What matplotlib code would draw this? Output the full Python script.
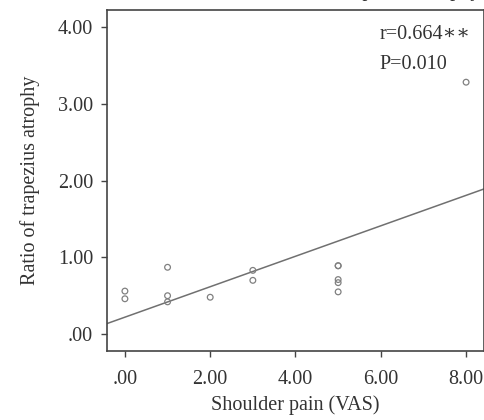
import numpy as np
import matplotlib
matplotlib.use("Agg")
import matplotlib.pyplot as plt

# Data
vas = [0, 0, 1, 1, 1, 2, 3, 3, 5, 5, 5, 5, 5, 8]
ratio = [0.56, 0.46, 0.87, 0.50, 0.42, 0.48, 0.83, 0.70, 0.89, 0.89, 0.71, 0.67, 0.55, 3.28]
x_ticks = [0, 2, 4, 6, 8]
x_labels = [".00", "2.00", "4.00", "6.00", "8.00"]
y_ticks = [0, 1, 2, 3, 4]
y_labels = [".00", "1.00", "2.00", "3.00", "4.00"]
stats_text = "r=0.664\u2217\u2217\nP=0.010"

plt.rcParams["font.family"] = ["Liberation Serif", "DejaVu Serif"]
GRAY = "#707070"
TXT = "#333333"
FS = 14.5

fig = plt.figure(figsize=(4.85, 4.2), dpi=100)
ax = fig.add_axes([107 / 485, 1 - 351 / 420, 377 / 485, 341 / 420])

ax.scatter(vas, ratio, s=17, facecolors="none", edgecolors="#808080", linewidths=0.9, zorder=3)

slope, intercept = np.polyfit(vas, ratio, 1)
xl = np.array([-0.42, 8.42])
ax.plot(xl, intercept + slope * xl, color=GRAY, lw=1.1, zorder=2)

ax.set_xlim(-0.42, 8.42)
ax.set_ylim(-0.22, 4.22)
ax.set_xticks(x_ticks, x_labels)
ax.set_yticks(y_ticks, y_labels)
ax.tick_params(length=4, width=1, color="#444444", labelsize=FS, labelcolor=TXT, pad=6)
ax.tick_params(axis="x", pad=10)
for sp in ax.spines.values():
    sp.set_color("#444444")
    sp.set_linewidth(1.2)

ax.set_xlabel("Shoulder pain (VAS)", fontsize=FS, color=TXT, labelpad=4)
ax.set_ylabel("Ratio of trapezius atrophy", fontsize=FS, color=TXT, labelpad=13)

ax.text(0.722, 0.955, stats_text, transform=ax.transAxes, ha="left", va="top",
        fontsize=FS, color=TXT, linespacing=1.75)

# title cut off at the top of the reference, only descenders show
fig.text(480 / 485, 1 + 4 / 420, "Ratio of trapezius atrophy", ha="right", va="baseline",
         fontsize=FS, color=TXT)

fig.savefig("out.png", dpi=100)
